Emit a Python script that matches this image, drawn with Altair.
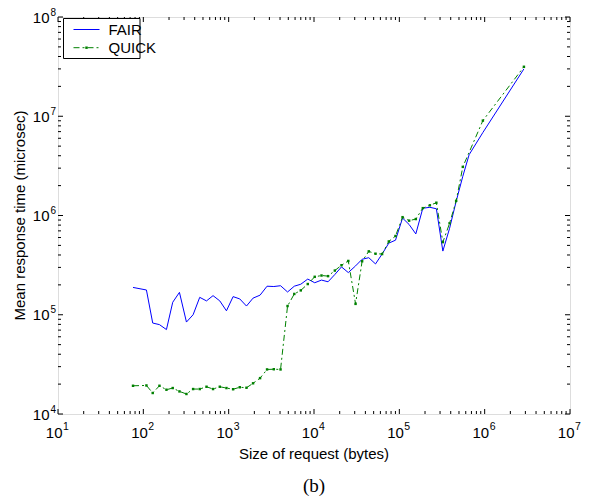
import altair as alt
import pandas as pd

# ---------------- data ----------------
fair_x = [75.7, 108.7, 128.8, 154.5, 186.6, 221, 265, 320, 383, 458, 550, 656, 787, 942,
          1127, 1349, 1617, 1932, 2334, 2818, 3381, 4055, 4898, 5875, 7000, 8450, 10200,
          12240, 14620, 17540, 21000, 25230, 30690, 36640, 43850, 52600, 62800, 75300,
          90200, 109100, 130300, 156000, 188400, 228000, 271600, 323600, 388000, 463400,
          554600, 657700, 952800, 2884000]
fair_y = [188500, 177600, 82500, 79500, 70900, 133600, 168100, 84400, 100000, 149800,
          137900, 155800, 137900, 109600, 152300, 144400, 122400, 147100, 157600, 193900,
          192500, 196100, 169600, 193900, 203000, 228800, 210100, 223500, 214900, 254200,
          303400, 266100, 310500, 362200, 375700, 325100, 409000, 527000, 564000, 942000,
          811000, 652000, 1183000, 1210000, 1169000, 438000, 743000, 1389000, 2485000,
          4100000, 6860000, 30000000]

quick_x = [75.7, 108.7, 128.8, 154.5, 186.6, 221, 265, 320, 383, 458, 550, 656, 787, 942,
           1127, 1349, 1617, 1932, 2334, 2818, 3381, 4055, 4898, 5875, 7000, 8450, 10200,
           12240, 14620, 17540, 21000, 25230, 30690, 36640, 43850, 52600, 62800, 75300,
           90200, 109100, 130300, 156000, 188400, 228000, 271600, 323600, 388000, 463400,
           554600, 952800, 2884000]
quick_y = [19250, 19390, 16280, 19250, 17560, 18260, 16890, 15910, 17840, 17840, 18820,
           17840, 18820, 18260, 17760, 18600, 18390, 20390, 22980, 28120, 28250, 28120,
           122400, 162000, 176000, 203900, 241100, 248500, 245000, 278700, 315500, 348300,
           128700, 345900, 435000, 412000, 409000, 547600, 621600, 962000, 887000, 921000,
           1186000, 1267000, 1345000, 539000, 834000, 1405000, 3090000, 9040000, 31500000]

series_names = ["FAIR", "QUICK"]
x_title = "Size of request (bytes)"
y_title = "Mean response time (microsec)"
caption = "(b)"

x_exps = [1, 2, 3, 4, 5, 6, 7]
y_exps = [4, 5, 6, 7, 8]
x_major = [10 ** e for e in x_exps]
y_major = [10 ** e for e in y_exps]
x_minor = [m * 10 ** e for e in range(1, 7) for m in range(2, 10)]
y_minor = [m * 10 ** e for e in range(4, 8) for m in range(2, 10)]

# ---------------- layout ----------------
W, H = 512, 397
PAD_TOP = 9
FONT = "Liberation Sans"
BLUE = "#0000ff"
GREEN = "#008000"

xs = alt.Scale(type="log", domain=[10, 1e7], nice=False)
ys = alt.Scale(type="log", domain=[1e4, 1e8], nice=False)

fair_df = pd.DataFrame({"x": fair_x, "y": fair_y})
quick_df = pd.DataFrame({"x": quick_x, "y": quick_y})
xmaj_df = pd.DataFrame({"v": x_major, "e": [str(e) for e in x_exps]})
ymaj_df = pd.DataFrame({"v": y_major, "e": [str(e) for e in y_exps]})
xmin_df = pd.DataFrame({"v": x_minor})
ymin_df = pd.DataFrame({"v": y_minor})

X = alt.X("x:Q", scale=xs, axis=None)
Y = alt.Y("y:Q", scale=ys, axis=None)
XV = alt.X("v:Q", scale=xs, axis=None)
YV = alt.Y("v:Q", scale=ys, axis=None)

fair_line = alt.Chart(fair_df).mark_line(color=BLUE, strokeWidth=1).encode(x=X, y=Y)
quick_line = alt.Chart(quick_df).mark_line(
    color=GREEN, strokeWidth=1, strokeDash=[6, 3, 2, 3]).encode(x=X, y=Y)
quick_pts = alt.Chart(quick_df).mark_point(
    shape="square", filled=True, size=6, color=GREEN, opacity=1).encode(x=X, y=Y)

layers = [fair_line, quick_line, quick_pts]

# inward ticks on all four sides
def xticks(df, length):
    return [
        alt.Chart(df).mark_rule(color="black", strokeWidth=1).encode(
            x=XV, y=alt.value(H), y2=alt.value(H - length)),
        alt.Chart(df).mark_rule(color="black", strokeWidth=1).encode(
            x=XV, y=alt.value(0), y2=alt.value(length)),
    ]

def yticks(df, length):
    return [
        alt.Chart(df).mark_rule(color="black", strokeWidth=1).encode(
            y=YV, x=alt.value(0), x2=alt.value(length)),
        alt.Chart(df).mark_rule(color="black", strokeWidth=1).encode(
            y=YV, x=alt.value(W), x2=alt.value(W - length)),
    ]

layers += xticks(xmaj_df, 5) + xticks(xmin_df, 3) + yticks(ymaj_df, 5) + yticks(ymin_df, 3)

# tick labels 10^n
layers += [
    alt.Chart(xmaj_df).mark_text(font=FONT, fontSize=15, align="right", baseline="alphabetic",
                                 dx=4.5, color="black").encode(
        x=XV, y=alt.value(H + 24), text=alt.value("10")),
    alt.Chart(xmaj_df).mark_text(font=FONT, fontSize=10.5, align="left", baseline="alphabetic",
                                 dx=5, color="black").encode(
        x=XV, y=alt.value(H + 16), text="e:N"),
    alt.Chart(ymaj_df).mark_text(font=FONT, fontSize=15, align="right", baseline="alphabetic",
                                 dx=-8.5, dy=5.6, color="black").encode(
        y=YV, x=alt.value(0), text=alt.value("10")),
    alt.Chart(ymaj_df).mark_text(font=FONT, fontSize=10, align="left", baseline="alphabetic",
                                 dx=-7.5, dy=-1.5, color="black").encode(
        y=YV, x=alt.value(0), text="e:N"),
]

# titles
layers += [
    alt.Chart(pd.DataFrame({"t": [x_title]})).mark_text(
        font=FONT, fontSize=15, align="center", baseline="alphabetic", color="black").encode(
        x=alt.value(W / 2), y=alt.value(H + 45), text="t:N"),
    alt.Chart(pd.DataFrame({"t": [y_title]})).mark_text(
        font=FONT, fontSize=15, align="center", baseline="alphabetic", angle=270,
        color="black").encode(
        x=alt.value(-33.5), y=alt.value(H / 2), text="t:N"),
    alt.Chart(pd.DataFrame({"t": [caption]})).mark_text(
        font="Liberation Serif", fontSize=19, align="center", baseline="alphabetic",
        color="black").encode(
        x=alt.value(W / 2), y=alt.value(H + 78), text="t:N"),
]

# legend (box + samples + labels)
leg = pd.DataFrame({"t": [series_names[0]]})
LT = 1.5  # legend top offset inside plot
layers += [
    alt.Chart(leg).mark_rect(fill="white", stroke="black", strokeWidth=1).encode(
        x=alt.value(5.5), x2=alt.value(82), y=alt.value(LT), y2=alt.value(LT + 40)),
    alt.Chart(leg).mark_rule(color=BLUE, strokeWidth=1).encode(
        x=alt.value(15.5), x2=alt.value(41.5), y=alt.value(LT + 11)),
    alt.Chart(leg).mark_rule(color=GREEN, strokeWidth=1, strokeDash=[6, 3, 2, 3]).encode(
        x=alt.value(15.5), x2=alt.value(41.5), y=alt.value(LT + 29.2)),
    alt.Chart(leg).mark_point(shape="square", filled=True, size=6, color=GREEN,
                              opacity=1).encode(
        x=alt.value(28.5), y=alt.value(LT + 29.2)),
    alt.Chart(pd.DataFrame({"t": series_names, "yy": [LT + 16.5, LT + 34]})).mark_text(
        font=FONT, fontSize=15, align="left", baseline="alphabetic", color="black").encode(
        x=alt.value(50.5), y=alt.Y("yy:Q", scale=None, axis=None), text="t:N"),
]

chart = alt.layer(*layers).properties(
    width=W, height=H,
    autosize=alt.AutoSizeParams(type="none"),
    padding={"left": 50, "top": PAD_TOP, "right": 15, "bottom": 84},
).configure_view(stroke="black", strokeWidth=1).configure(background="white")

chart.save("out.html", embed_options={"renderer": "svg", "actions": False})
